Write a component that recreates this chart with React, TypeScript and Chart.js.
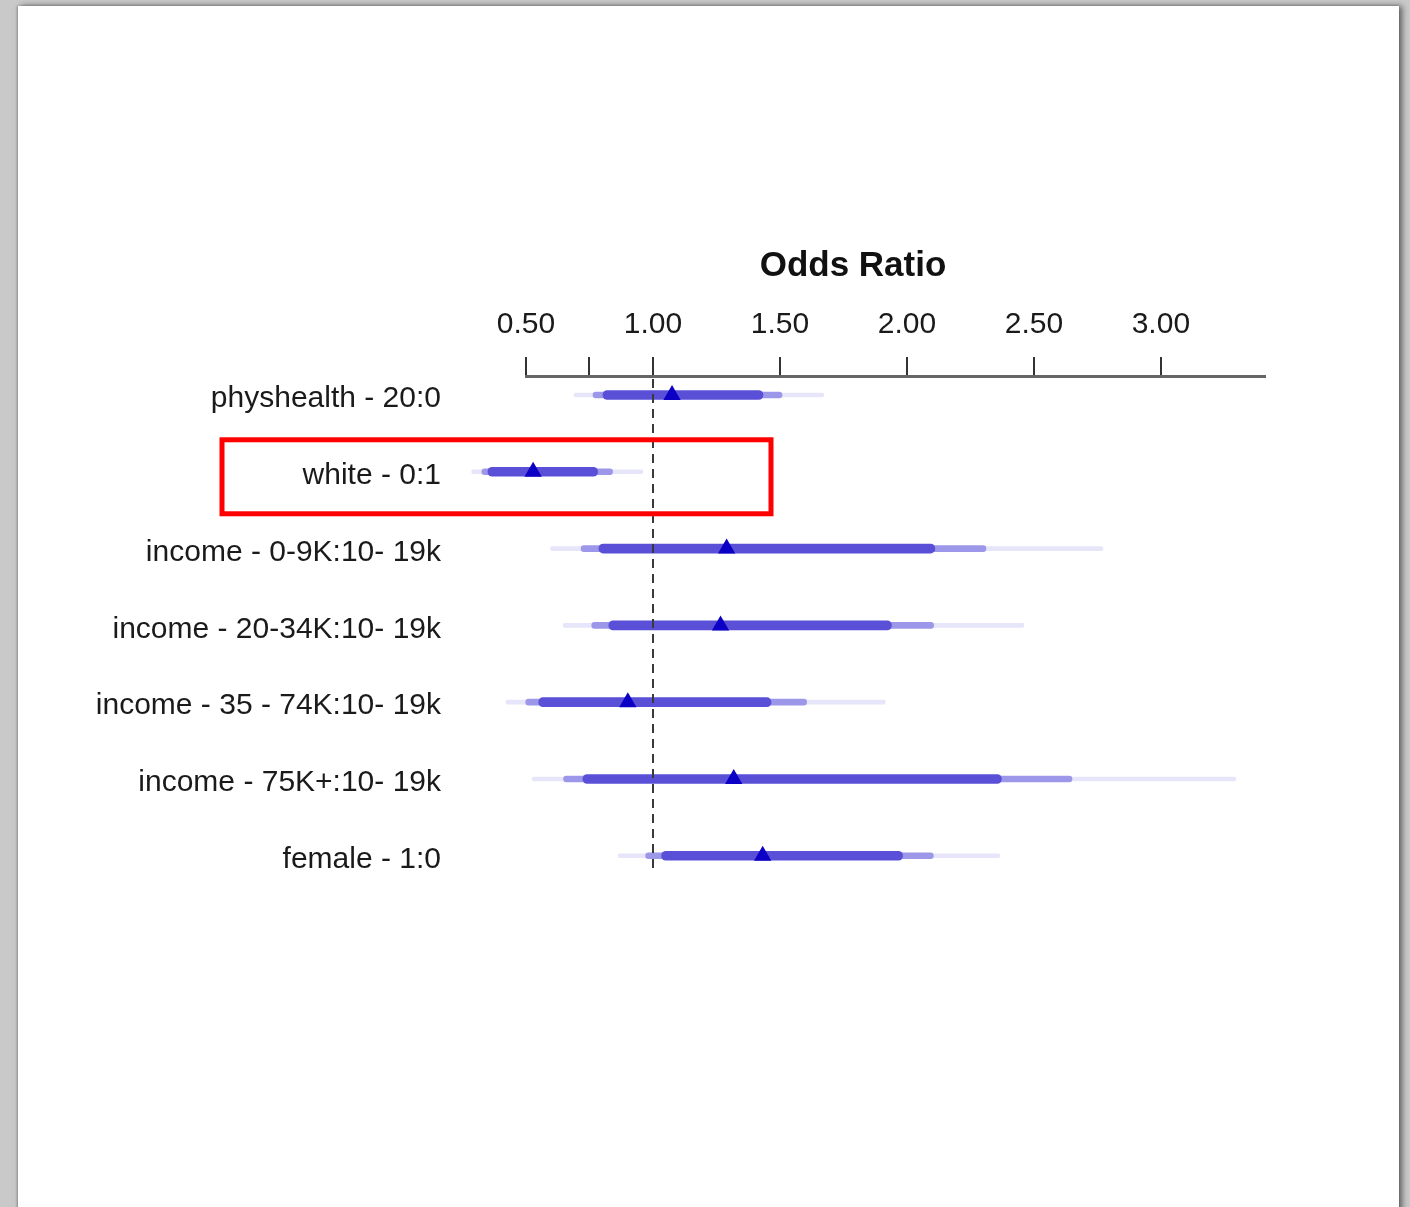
import React, { useEffect, useRef } from "react";
import { Chart, registerables } from "chart.js";

Chart.register(...registerables);

const rowLabels = [
  "physhealth - 20:0",
  "white - 0:1",
  "income - 0-9K:10- 19k",
  "income - 20-34K:10- 19k",
  "income - 35 - 74K:10- 19k",
  "income - 75K+:10- 19k",
  "female - 1:0",
];

const pointEstimate = [1.075, 0.528, 1.29, 1.266, 0.901, 1.318, 1.432];
const innerLow = [0.803, 0.35, 0.787, 0.826, 0.55, 0.724, 1.034];
const innerHigh = [1.433, 0.782, 2.11, 1.939, 1.465, 2.372, 1.983];
const midLow = [0.764, 0.326, 0.717, 0.759, 0.499, 0.648, 0.971];
const midHigh = [1.508, 0.841, 2.311, 2.105, 1.605, 2.65, 2.104];
const outerLow = [0.689, 0.286, 0.597, 0.646, 0.421, 0.524, 0.863];
const outerHigh = [1.673, 0.961, 2.772, 2.461, 1.915, 3.295, 2.366];

const xTickValues = [0.5, 0.75, 1.0, 1.5, 2.0, 2.5, 3.0];
const xTickLabels = ["0.50", "", "1.00", "1.50", "2.00", "2.50", "3.00"];
const axisTitle = "Odds Ratio";
const highlightedRow = 1;

const FONT = "'Liberation Sans', Arial, Helvetica, sans-serif";

export default function App() {
  const canvasRef = useRef<HTMLCanvasElement | null>(null);

  useEffect(() => {
    const canvas = canvasRef.current;
    if (!canvas) return;

    const bars = (lo: number[], hi: number[], color: string, thick: number) => ({
      type: "bar" as const,
      indexAxis: "y" as const,
      data: lo.map((l, i) => ({ y: i, x: [l, hi[i]] })),
      backgroundColor: color,
      borderWidth: 0,
      borderSkipped: false,
      borderRadius: thick / 2,
      barThickness: thick,
      grouped: false,
      clip: false as any,
    });

    const overlay = {
      id: "overlay",
      afterDatasetsDraw(chart: any) {
        const { ctx, chartArea, scales } = chart;
        const xs = scales.x;
        const ys = scales.y;
        ctx.save();
        const x1 = Math.round(xs.getPixelForValue(1));
        ctx.strokeStyle = "#3a3a3a";
        ctx.lineWidth = 2;
        ctx.setLineDash([9, 6]);
        ctx.beginPath();
        ctx.moveTo(x1, chartArea.top + 3);
        ctx.lineTo(x1, chartArea.bottom);
        ctx.stroke();
        ctx.setLineDash([]);
        const py = ys.getPixelForValue(highlightedRow);
        ctx.strokeStyle = "#ff0000";
        ctx.lineWidth = 5;
        ctx.strokeRect(222, py - 32, 771 - 222, 74);
        ctx.fillStyle = "#111";
        ctx.font = `bold 35px ${FONT}`;
        ctx.textAlign = "center";
        ctx.textBaseline = "middle";
        ctx.fillText(axisTitle, 853, 266);
        ctx.restore();
      },
    };

    const chart = new Chart(canvas, {
      type: "bar",
      data: {
        datasets: [
          {
            type: "scatter" as const,
            data: pointEstimate.map((v, i) => ({ x: v, y: i })),
            pointStyle: "triangle",
            pointRadius: 10,
            pointBackgroundColor: "#0c00c4",
            pointBorderColor: "#0c00c4",
            pointBorderWidth: 0,
            showLine: false,
            clip: false as any,
          } as any,
          bars(innerLow, innerHigh, "#5a50d8", 9),
          bars(midLow, midHigh, "#9d97e9", 6),
          bars(outerLow, outerHigh, "#e6e5f9", 4),
        ],
      },
      options: {
        animation: false,
        responsive: false,
        devicePixelRatio: 1,
        indexAxis: "y",
        layout: { padding: { left: 0, top: 0, right: 145, bottom: 337 } },
        plugins: { legend: { display: false }, tooltip: { enabled: false } },
        scales: {
          x: {
            type: "linear",
            position: "top",
            offset: false,
            beginAtZero: false,
            min: 0.5,
            max: 3.41,
            afterBuildTicks: (scale: any) => {
              scale.ticks = xTickValues.map((v) => ({ value: v }));
            },
            afterFit: (scale: any) => {
              scale.height = 376;
            },
            ticks: {
              autoSkip: false,
              maxRotation: 0,
              padding: 14,
              color: "#1a1a1a",
              font: { family: FONT, size: 30 },
              callback: (_v: any, i: number) => xTickLabels[i],
            },
            grid: {
              offset: false,
              drawOnChartArea: false,
              drawTicks: true,
              tickLength: 19,
              color: "#333",
              lineWidth: 2,
            },
            border: { display: true, color: "#666", width: 3 },
          },
          y: {
            type: "linear",
            position: "left",
            offset: false,
            beginAtZero: false,
            reverse: true,
            min: -0.247,
            max: 6.185,
            afterBuildTicks: (scale: any) => {
              scale.ticks = rowLabels.map((_, i) => ({ value: i }));
            },
            afterFit: (scale: any) => {
              scale.width = 526;
            },
            ticks: {
              autoSkip: false,
              padding: 85,
              labelOffset: 4,
              color: "#1a1a1a",
              font: { family: FONT, size: 30 },
              callback: (v: any) => rowLabels[Math.round(Number(v))] ?? "",
            },
            grid: { offset: false, display: false, drawTicks: false },
            border: { display: false },
          },
        },
      } as any,
      plugins: [overlay],
    });

    return () => chart.destroy();
  }, []);

  return (
    <div
      style={{
        position: "absolute",
        left: 0,
        top: 0,
        width: 1410,
        height: 1207,
        background: "#c8c9c8",
        overflow: "hidden",
      }}
    >
      <div
        style={{
          position: "absolute",
          left: 18,
          top: 6,
          width: 1381,
          height: 1260,
          background: "#ffffff",
          boxShadow: "3px 0 6px rgba(0,0,0,0.55), -1px 0 2px rgba(0,0,0,0.25)",
        }}
      />
      <canvas
        ref={canvasRef}
        width={1410}
        height={1207}
        style={{ position: "absolute", left: 0, top: 0, width: 1410, height: 1207 }}
      />
    </div>
  );
}
